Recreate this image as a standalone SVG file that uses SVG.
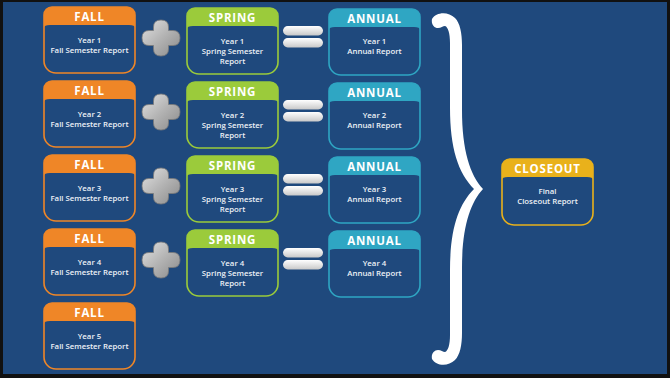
<svg xmlns="http://www.w3.org/2000/svg" xmlns:xlink="http://www.w3.org/1999/xlink" width="670" height="378" viewBox="0 0 670 378">
<style>
.h{font-family:"Open Sans","Liberation Sans",sans-serif;font-weight:700;font-size:11.5px;fill:#ffffff;text-anchor:middle;letter-spacing:0.8px}
.t{font-family:"Open Sans","Liberation Sans",sans-serif;font-weight:600;font-size:7.8px;fill:#EEF2F7;text-anchor:middle}
.bx{fill:#1F497D;stroke-width:1.6}
.fall{fill:#EF8627}
.fallB{stroke:#EF8627}
.spr{fill:#9BCB3B}
.sprB{stroke:#9BCB3B}
.ann{fill:#2FA6C3}
.annB{stroke:#2FA6C3}
.clo{fill:#E9B11B}
.cloB{stroke:#E9B11B}
.eq{fill:url(#gEq)}
.pl{fill:url(#gPl);stroke:#7a7a7a;stroke-width:0.8}
</style>
<defs>
<linearGradient id="gEq" x1="0" y1="0" x2="0" y2="1">
<stop offset="0" stop-color="#ffffff"/>
<stop offset="1" stop-color="#c9c9c9"/>
</linearGradient>
<linearGradient id="gPl" x1="0" y1="0" x2="1" y2="1">
<stop offset="0" stop-color="#e2e2e2"/>
<stop offset="0.5" stop-color="#b4b4b4"/>
<stop offset="1" stop-color="#8a8a8a"/>
</linearGradient>
<path id="box" d="M8,0 H83 A8,8 0 0 1 91,8 V54 A12,12 0 0 1 79,66 H12 A12,12 0 0 1 0,54 V8 A8,8 0 0 1 8,0 Z"/>
<path id="hdr" d="M8,0 H83 A8,8 0 0 1 91,8 V20.5 Q91,18 85,18 H6 Q0,18 0,20.5 V8 A8,8 0 0 1 8,0 Z"/>
<path id="plus" d="M-7.5,-11 Q-7.5,-18 0,-18 Q7.5,-18 7.5,-11 V-7.5 H12 Q19,-7.5 19,0 Q19,7.5 12,7.5 H7.5 V11 Q7.5,18 0,18 Q-7.5,18 -7.5,11 V7.5 H-12 Q-19,7.5 -19,0 Q-19,-7.5 -12,-7.5 H-7.5 Z"/>
</defs>
<rect x="0" y="0" width="670" height="378" fill="#111111"/>
<rect x="3" y="2" width="664" height="372" fill="#1F497D"/>

<g id="connectors">
<use href="#plus" x="161" y="38" class="pl"/>
<use href="#plus" x="161" y="112" class="pl"/>
<use href="#plus" x="161" y="186" class="pl"/>
<use href="#plus" x="161" y="260" class="pl"/>
<rect class="eq" x="283" y="26" width="40" height="9.5" rx="4.75"/>
<rect class="eq" x="283" y="38" width="40" height="9.5" rx="4.75"/>
<rect class="eq" x="283" y="100" width="40" height="9.5" rx="4.75"/>
<rect class="eq" x="283" y="112" width="40" height="9.5" rx="4.75"/>
<rect class="eq" x="283" y="174" width="40" height="9.5" rx="4.75"/>
<rect class="eq" x="283" y="186" width="40" height="9.5" rx="4.75"/>
<rect class="eq" x="283" y="248" width="40" height="9.5" rx="4.75"/>
<rect class="eq" x="283" y="260" width="40" height="9.5" rx="4.75"/>
<path id="brace" fill="#ffffff" d="M432,19 C436,12 448,11 455,18 C460,23 462,33 462,45 L462,110 C462,150 470,175 483,189 C470,203 462,228 462,268 L462,333 C462,345 460,355 455,360 C448,367 436,366 432,359 C431,354 434,350 438,350 C441,350 443,352 445,352 C448,351 450,345 450,335 L450,270 C450,230 458,205 474,189 C458,173 450,148 450,108 L450,43 C450,33 448,27 445,26 C443,26 441,28 438,28 C434,28 431,24 432,19 Z"/>
</g>

<g id="fall1" transform="translate(44,7)">
<use href="#box" class="bx fallB"/><use href="#hdr" class="fall"/>
<text class="h" x="45.5" y="14">FALL</text>
<text class="t" x="45.5" y="36">Year 1</text><text class="t" x="45.5" y="46">Fall Semester Report</text>
</g>
<g id="fall2" transform="translate(44,81)">
<use href="#box" class="bx fallB"/><use href="#hdr" class="fall"/>
<text class="h" x="45.5" y="14">FALL</text>
<text class="t" x="45.5" y="36">Year 2</text><text class="t" x="45.5" y="46">Fall Semester Report</text>
</g>
<g id="fall3" transform="translate(44,155)">
<use href="#box" class="bx fallB"/><use href="#hdr" class="fall"/>
<text class="h" x="45.5" y="14">FALL</text>
<text class="t" x="45.5" y="36">Year 3</text><text class="t" x="45.5" y="46">Fall Semester Report</text>
</g>
<g id="fall4" transform="translate(44,229)">
<use href="#box" class="bx fallB"/><use href="#hdr" class="fall"/>
<text class="h" x="45.5" y="14">FALL</text>
<text class="t" x="45.5" y="36">Year 4</text><text class="t" x="45.5" y="46">Fall Semester Report</text>
</g>
<g id="fall5" transform="translate(44,303)">
<use href="#box" class="bx fallB"/><use href="#hdr" class="fall"/>
<text class="h" x="45.5" y="14">FALL</text>
<text class="t" x="45.5" y="36">Year 5</text><text class="t" x="45.5" y="46">Fall Semester Report</text>
</g>

<g id="spring1" transform="translate(187,8)">
<use href="#box" class="bx sprB"/><use href="#hdr" class="spr"/>
<text class="h" x="45.5" y="14">SPRING</text>
<text class="t" x="45.5" y="35.5">Year 1</text><text class="t" x="45.5" y="45.5">Spring Semester</text><text class="t" x="45.5" y="55.5">Report</text>
</g>
<g id="spring2" transform="translate(187,82)">
<use href="#box" class="bx sprB"/><use href="#hdr" class="spr"/>
<text class="h" x="45.5" y="14">SPRING</text>
<text class="t" x="45.5" y="35.5">Year 2</text><text class="t" x="45.5" y="45.5">Spring Semester</text><text class="t" x="45.5" y="55.5">Report</text>
</g>
<g id="spring3" transform="translate(187,156)">
<use href="#box" class="bx sprB"/><use href="#hdr" class="spr"/>
<text class="h" x="45.5" y="14">SPRING</text>
<text class="t" x="45.5" y="35.5">Year 3</text><text class="t" x="45.5" y="45.5">Spring Semester</text><text class="t" x="45.5" y="55.5">Report</text>
</g>
<g id="spring4" transform="translate(187,230)">
<use href="#box" class="bx sprB"/><use href="#hdr" class="spr"/>
<text class="h" x="45.5" y="14">SPRING</text>
<text class="t" x="45.5" y="35.5">Year 4</text><text class="t" x="45.5" y="45.5">Spring Semester</text><text class="t" x="45.5" y="55.5">Report</text>
</g>

<g id="annual1" transform="translate(329,9)">
<use href="#box" class="bx annB"/><use href="#hdr" class="ann"/>
<text class="h" x="45.5" y="14">ANNUAL</text>
<text class="t" x="45.5" y="35">Year 1</text><text class="t" x="45.5" y="45">Annual Report</text>
</g>
<g id="annual2" transform="translate(329,83)">
<use href="#box" class="bx annB"/><use href="#hdr" class="ann"/>
<text class="h" x="45.5" y="14">ANNUAL</text>
<text class="t" x="45.5" y="35">Year 2</text><text class="t" x="45.5" y="45">Annual Report</text>
</g>
<g id="annual3" transform="translate(329,157)">
<use href="#box" class="bx annB"/><use href="#hdr" class="ann"/>
<text class="h" x="45.5" y="14">ANNUAL</text>
<text class="t" x="45.5" y="35">Year 3</text><text class="t" x="45.5" y="45">Annual Report</text>
</g>
<g id="annual4" transform="translate(329,231)">
<use href="#box" class="bx annB"/><use href="#hdr" class="ann"/>
<text class="h" x="45.5" y="14">ANNUAL</text>
<text class="t" x="45.5" y="35">Year 4</text><text class="t" x="45.5" y="45">Annual Report</text>
</g>

<g id="closeout" transform="translate(502,159)">
<use href="#box" class="bx cloB"/><use href="#hdr" class="clo"/>
<text class="h" x="45.5" y="14">CLOSEOUT</text>
<text class="t" x="45.5" y="34.5">Final</text><text class="t" x="45.5" y="45">Closeout Report</text>
</g>
</svg>
